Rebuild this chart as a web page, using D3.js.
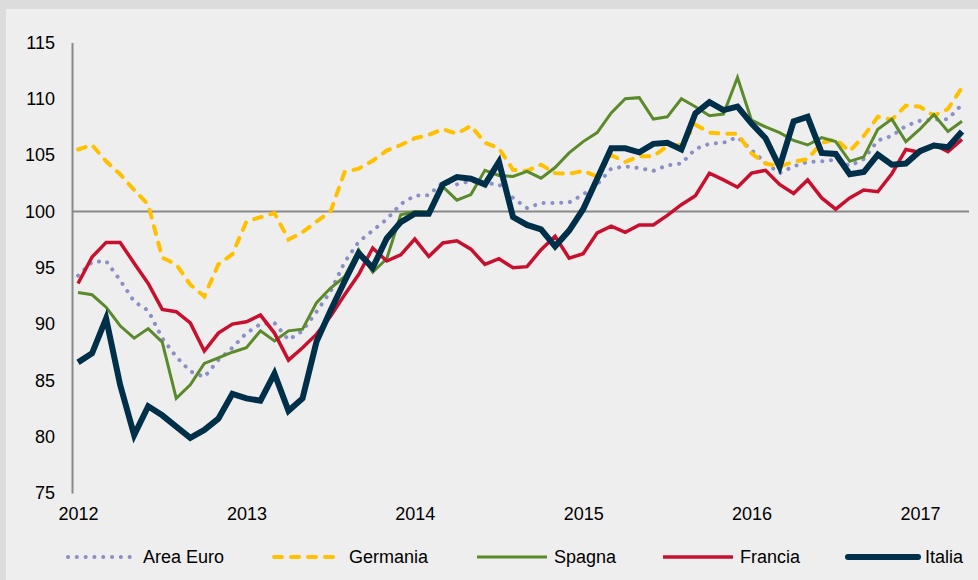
<!DOCTYPE html>
<html>
<head>
<meta charset="utf-8">
<script src="https://cdn.jsdelivr.net/npm/d3@7"></script>
<style>
  body { margin: 0; background: #dcdcdc; }
  svg { display: block; font-family: "Liberation Sans", Arial, sans-serif; }
  .axis text { font-size: 18px; fill: #000; }
</style>
</head>
<body>
<svg id="grafico" width="978" height="580"></svg>
<script>
// mesi da gen 2012 ad apr 2017
var anni = ["2012", "2013", "2014", "2015", "2016", "2017"];
var tickY = [75, 80, 85, 90, 95, 100, 105, 110, 115];

var areaEuro = [94.3, 95.5, 95.6, 93.9, 92.0, 91.2, 88.75, 87.1, 85.8, 85.3,
  86.8, 87.9, 89.2, 90.0, 90.1, 88.6, 89.4, 91.1, 92.9, 95.5,
  97.3, 98.3, 99.3, 100.65, 101.4, 101.45, 102.6, 102.4, 102.7, 102.5,
  102.4, 101.2, 100.3, 100.75, 100.75, 100.8, 101.5, 102.4, 103.8, 104.0,
  103.85, 103.6, 104.1, 104.25, 105.55, 106.0, 106.1, 106.6, 105.45, 104.3,
  103.4, 104.0, 104.4, 104.45, 104.6, 104.05, 104.65, 106.3, 106.7, 107.6,
  108.05, 108.15, 108.2, 109.5];
var germania = [105.5, 105.9, 104.45, 103.3, 101.9, 100.6, 95.9, 95.3, 93.5, 92.45,
  95.3, 96.2, 99.1, 99.5, 99.85, 97.5, 98.15, 99.1, 100.0, 103.5,
  103.8, 104.5, 105.4, 105.9, 106.5, 106.8, 107.3, 106.9, 107.6, 106.1,
  105.6, 103.7, 103.6, 104.15, 103.4, 103.35, 103.6, 103.1, 105.0, 104.4,
  104.9, 104.9, 105.8, 105.9, 107.7, 107.0, 106.9, 106.9, 105.15, 104.25,
  104.0, 104.4, 104.65, 106.1, 106.4, 105.35, 106.7, 108.4, 108.15, 109.4,
  109.3, 108.5, 109.1, 111.0];
var spagna = [92.8, 92.6, 91.5, 89.85, 88.75, 89.6, 88.4, 83.4, 84.6, 86.5,
  87.0, 87.5, 87.9, 89.4, 88.5, 89.4, 89.55, 91.9, 93.2, 94.2,
  96.6, 94.6, 95.8, 99.7, 100.0, 99.95, 102.2, 101.0, 101.5, 103.65,
  103.2, 103.1, 103.55, 102.95, 103.9, 105.2, 106.2, 107.0, 108.75, 110.0,
  110.1, 108.2, 108.4, 110.0, 109.3, 108.5, 108.65, 111.9, 108.1, 107.5,
  107.0, 106.3, 105.9, 106.55, 106.2, 104.45, 104.85, 107.3, 108.2, 106.2,
  107.3, 108.6, 107.1, 108.0];
var francia = [93.6, 95.95, 97.25, 97.25, 95.4, 93.6, 91.3, 91.1, 90.1, 87.6,
  89.2, 90.0, 90.2, 90.8, 89.2, 86.8, 87.9, 89.1, 90.7, 92.6,
  94.4, 96.75, 95.6, 96.15, 97.55, 96.0, 97.2, 97.4, 96.65, 95.3,
  95.8, 95.0, 95.1, 96.6, 97.8, 95.85, 96.25, 98.1, 98.7, 98.15,
  98.8, 98.8, 99.65, 100.6, 101.4, 103.4, 102.8, 102.15, 103.4, 103.65,
  102.4, 101.6, 102.8, 101.2, 100.2, 101.2, 101.9, 101.75, 103.35, 105.5,
  105.25, 105.95, 105.3, 106.4];
var italia = [86.6, 87.4, 90.5, 84.6, 80.15, 82.7, 81.9, 80.9, 79.9, 80.6,
  81.6, 83.8, 83.4, 83.2, 85.6, 82.3, 83.4, 88.45, 91.2, 93.8,
  96.3, 95.0, 97.6, 99.05, 99.8, 99.8, 102.4, 103.05, 102.9, 102.4,
  104.4, 99.5, 98.8, 98.4, 96.9, 98.3, 100.2, 102.9, 105.6, 105.6,
  105.25, 106.0, 106.1, 105.5, 108.7, 109.7, 109.0, 109.3, 107.8, 106.5,
  103.95, 108.0, 108.4, 105.2, 105.1, 103.3, 103.5, 105.05, 104.15, 104.25,
  105.35, 105.85, 105.7, 107.1];

var serie = [
  {nome: "Area Euro", valori: areaEuro, colore: "#8a8fc8", spessore: 4, dash: "0.1,8.7", cap: "round"},
  {nome: "Germania", valori: germania, colore: "#ffc000", spessore: 4, dash: "8,9", cap: "round"},
  {nome: "Spagna", valori: spagna, colore: "#5a8a2a", spessore: 3, dash: null, cap: "butt"},
  {nome: "Francia", valori: francia, colore: "#c8102e", spessore: 3.5, dash: null, cap: "butt"},
  {nome: "Italia", valori: italia, colore: "#003049", spessore: 6, dash: null, cap: "butt"}
];

var svg = d3.select("#grafico");

// sfondo
svg.append("rect").attr("x", 6).attr("y", 9).attr("width", 972).attr("height", 571).attr("fill", "#eeeeee");

var x = d3.scaleLinear().domain([-0.43, 63.5]).range([72, 969]);
var y = d3.scaleLinear().domain([75, 115]).range([493, 42.5]);

// asse y
var assey = svg.append("g")
    .attr("class", "axis")
    .attr("transform", "translate(" + x(-0.43) + ",0)")
    .call(d3.axisLeft(y).tickValues(tickY).tickSize(0).tickPadding(17));
assey.select(".domain").attr("stroke", "#888").attr("stroke-width", 2);

// anni
var assex = svg.append("g")
    .attr("class", "axis")
    .attr("transform", "translate(0," + y(75) + ")")
    .call(d3.axisBottom(x)
        .tickValues(anni.map(function(d, i) { return i * 12; }))
        .tickFormat(function(d, i) { return anni[i]; })
        .tickSize(0).tickPadding(14));
assex.select(".domain").remove();

// linea a 100
svg.append("line")
    .attr("x1", x(-0.43)).attr("x2", x(63.5))
    .attr("y1", y(100)).attr("y2", y(100))
    .attr("stroke", "#888").attr("stroke-width", 2);

var linea = d3.line()
    .x(function(d, i) { return x(i); })
    .y(function(d) { return y(d); });

serie.forEach(function(s) {
    svg.append("path")
        .datum(s.valori)
        .attr("d", linea)
        .attr("fill", "none")
        .attr("stroke", s.colore)
        .attr("stroke-width", s.spessore)
        .attr("stroke-dasharray", s.dash)
        .attr("stroke-linecap", s.cap)
        .attr("stroke-linejoin", "miter");
});

// legenda
var legX = [66, 272, 477, 663, 848];
var leg = svg.append("g").attr("transform", "translate(0,557)");
serie.forEach(function(s, i) {
    leg.append("line")
        .attr("x1", legX[i] + (s.cap === "round" ? 2 : 0)).attr("x2", legX[i] + 70)
        .attr("stroke", s.colore)
        .attr("stroke-width", s.spessore)
        .attr("stroke-dasharray", s.dash)
        .attr("stroke-linecap", s.nome === "Italia" ? "round" : s.cap);
    leg.append("text")
        .attr("x", legX[i] + 77)
        .attr("dy", "0.35em")
        .attr("font-size", 18)
        .attr("fill", "#000")
        .text(s.nome);
});
</script>
</body>
</html>
